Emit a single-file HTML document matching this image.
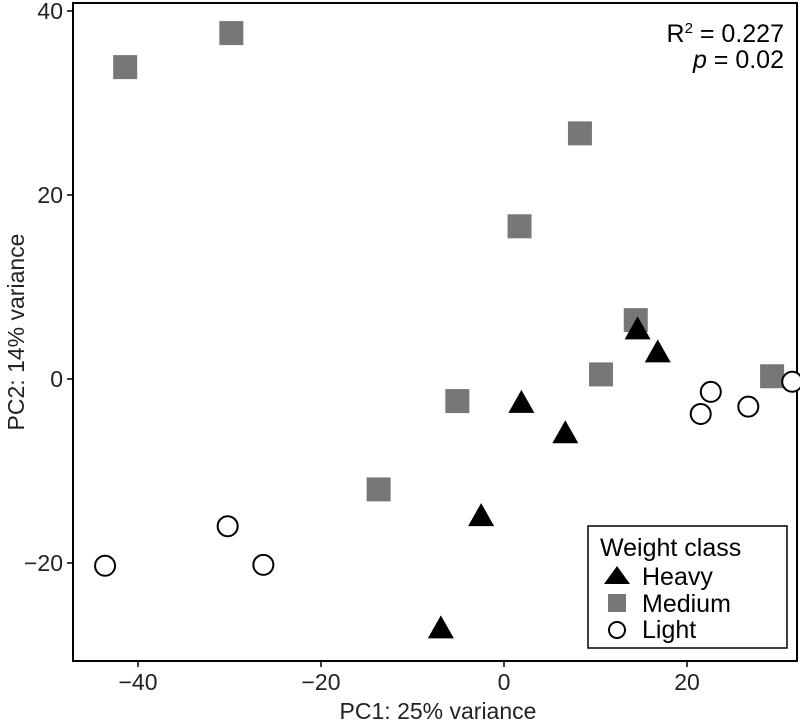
<!DOCTYPE html>
<html><head><meta charset="utf-8"><style>
body{margin:0;background:#fff;}
svg{display:block;font-family:"Liberation Sans",Helvetica,sans-serif;}
</style></head><body>
<svg id="chart" width="800" height="722">
<rect x="73" y="3" width="724" height="658" fill="#fff" stroke="#000" stroke-width="2"/>
<g id="axes"></g>
<g id="points"></g>
<text x="784" y="42" text-anchor="end" font-size="25">R<tspan dy="-9" font-size="15">2</tspan><tspan dy="9"> = 0.227</tspan></text>
<text x="784" y="68" text-anchor="end" font-size="25"><tspan font-style="italic">p</tspan> = 0.02</text>
<text x="438" y="719" text-anchor="middle" font-size="23" fill="#222">PC1: 25% variance</text>
<text transform="translate(24,332) rotate(-90)" text-anchor="middle" font-size="23" fill="#222">PC2: 14% variance</text>
<g>
<rect x="588" y="526" width="199" height="122" fill="#fff" stroke="#000" stroke-width="1.5"/>
<text x="600" y="556" font-size="25">Weight class</text>
<polygon points="604,584 617,566 630,584" fill="#000"/>
<text x="642" y="585" font-size="25">Heavy</text>
<rect x="608" y="594" width="18" height="18" fill="#777"/>
<text x="642" y="612" font-size="25">Medium</text>
<circle cx="617" cy="630" r="8" fill="#fff" stroke="#000" stroke-width="2"/>
<text x="642" y="638" font-size="25">Light</text>
</g>
</svg>
<script>
const xTicks=[-40,-20,0,20];
const yTicks=[-20,0,20,40];
const mediumX=[-41.4,-29.8,8.3,1.7,14.4,10.6,29.3,-5.1,-13.7];
const mediumY=[33.9,37.6,26.7,16.6,6.4,0.5,0.3,-2.4,-12.0];
const heavyX=[14.6,16.8,1.9,6.7,-2.5,-6.9];
const heavyY=[5.4,2.9,-2.6,-5.9,-14.9,-27.1];
const lightX=[-43.6,-30.2,-26.3,21.5,22.6,26.7,31.5];
const lightY=[-20.3,-16.0,-20.2,-3.8,-1.4,-3.0,-0.3];
const NS="http://www.w3.org/2000/svg";
function sx(v){return 504+v*9.15;}
function sy(v){return 379-v*9.2;}
function mk(t,a,p){const e=document.createElementNS(NS,t);for(const k in a)e.setAttribute(k,a[k]);p.appendChild(e);return e;}
const ax=document.getElementById('axes');
xTicks.forEach(v=>{
 const l=mk('line',{x1:sx(v),x2:sx(v),y1:661,y2:667,stroke:'#000','stroke-width':1.5},ax);
 
 
 const t=mk('text',{x:sx(v),y:690,'text-anchor':'middle','font-size':23,fill:'#222'},ax);
 t.textContent=v<0?'\u2212'+(-v):String(v);
 
 
});
yTicks.forEach(v=>{
 const l=mk('line',{x1:67,x2:73,y1:sy(v),y2:sy(v),stroke:'#000','stroke-width':1.5},ax);
 
 
 const t=mk('text',{x:63,y:sy(v)+8,'text-anchor':'end','font-size':23,fill:'#222'},ax);
 t.textContent=v<0?'\u2212'+(-v):String(v);
 
 
});
const pg=document.getElementById('points');
mediumX.forEach((x,i)=>{
 const r=mk('rect',{x:sx(x)-12,y:sy(mediumY[i])-12,width:24,height:24,fill:'#777'},pg);
 
 
});
heavyX.forEach((x,i)=>{
 const cx=sx(x),cy=sy(heavyY[i]);
 const p=mk('polygon',{points:`${cx-13},${cy+10} ${cx},${cy-13} ${cx+13},${cy+10}`,fill:'#000'},pg);
 
 
});
lightX.forEach((x,i)=>{
 const c=mk('circle',{cx:sx(x),cy:sy(lightY[i]),r:10,fill:'#fff',stroke:'#000','stroke-width':2},pg);
 
 
});
</script>
</body></html>
